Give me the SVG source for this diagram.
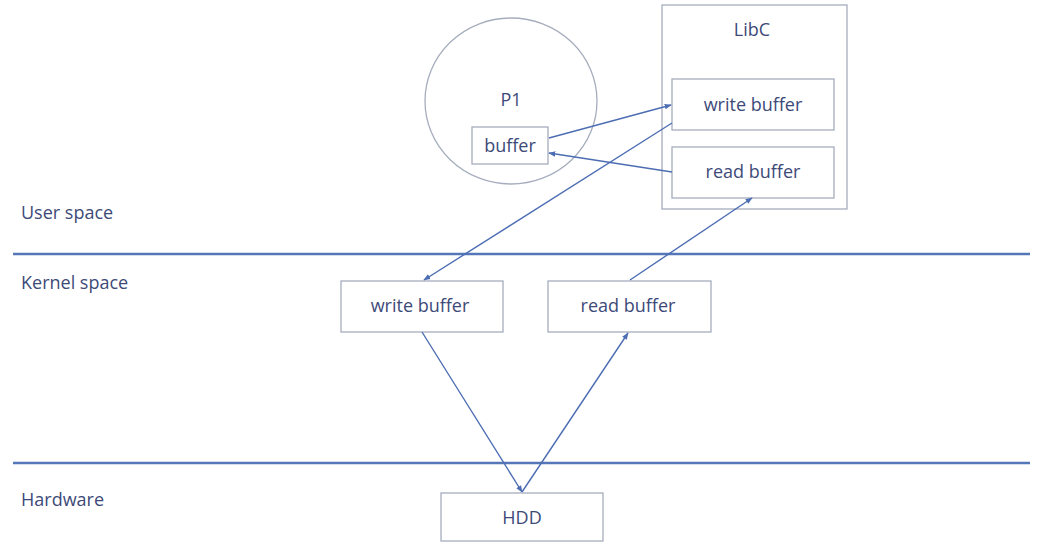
<svg xmlns="http://www.w3.org/2000/svg" width="1061" height="556" viewBox="0 0 1061 556">
<style>
text{font-family:"Open Sans","Liberation Sans",sans-serif;font-size:18px;fill:#3d4a78;}
.c{text-anchor:middle;}
.box{fill:#fff;stroke:#a6adbd;stroke-width:1.3;}
.sep{stroke:#5577b8;stroke-width:2.5;}
.ar{stroke:#4d6db3;stroke-width:1.4;fill:none;marker-end:url(#ah);}
</style>
<defs>
<marker id="ah" viewBox="0 0 10 10" refX="9" refY="5" markerWidth="7" markerHeight="7" orient="auto" markerUnits="userSpaceOnUse">
<path d="M0,1 L10,5 L0,9 z" fill="#4d6db3"/>
</marker>
</defs>
<rect width="1061" height="556" fill="#fff"/>
<g id="separators">
<line class="sep" x1="13" y1="254" x2="1030" y2="254"/>
<line class="sep" x1="13" y1="463" x2="1030" y2="463"/>
</g>
<g id="labels">
<text x="21" y="219">User space</text>
<text x="21" y="289">Kernel space</text>
<text x="21" y="506">Hardware</text>
</g>
<g id="p1">
<ellipse cx="511" cy="101" rx="86" ry="83" fill="#fff" stroke="#a6adbd" stroke-width="1.3"/>
<text class="c" x="511" y="106">P1</text>
</g>
<g id="p1-buffer">
<rect class="box" x="472" y="127" width="76" height="37"/>
<text class="c" x="510" y="152">buffer</text>
</g>
<g id="libc">
<rect class="box" x="662" y="5" width="185" height="204"/>
<text class="c" x="752" y="36">LibC</text>
</g>
<g id="libc-write">
<rect class="box" x="672" y="79" width="162" height="51"/>
<text class="c" x="753" y="111">write buffer</text>
</g>
<g id="libc-read">
<rect class="box" x="672" y="147" width="162" height="51"/>
<text class="c" x="753" y="178">read buffer</text>
</g>
<g id="k-write">
<rect class="box" x="341" y="281" width="162" height="51"/>
<text class="c" x="420" y="312">write buffer</text>
</g>
<g id="k-read">
<rect class="box" x="548" y="281" width="163" height="51"/>
<text class="c" x="628" y="312">read buffer</text>
</g>
<g id="hdd">
<rect class="box" x="441" y="493" width="162" height="48"/>
<text class="c" x="522" y="524">HDD</text>
</g>
<g id="connectors">
<line class="ar" x1="549" y1="138" x2="671" y2="105"/>
<line class="ar" x1="672" y1="172" x2="549" y2="153"/>
<line class="ar" x1="672" y1="123" x2="424" y2="280"/>
<line class="ar" x1="630" y1="280" x2="752" y2="198"/>
<line class="ar" x1="422" y1="332" x2="522" y2="492"/>
<line class="ar" x1="522" y1="492" x2="628" y2="333"/>
</g>
</svg>
